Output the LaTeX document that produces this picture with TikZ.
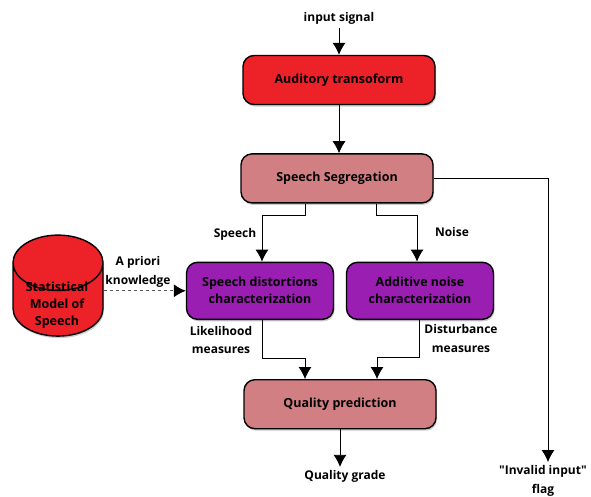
\documentclass[tikz,border=0pt]{standalone}
\usepackage{fontspec}
\setmainfont{Open Sans}[Ligatures=TeXOff]
\usepackage{xcolor}
\usetikzlibrary{shapes.geometric, arrows.meta, positioning, shadows}
\definecolor{boxred}{HTML}{EC2228}
\definecolor{boxrose}{HTML}{D27F83}
\definecolor{boxpurple}{HTML}{9A1EB2}

\begin{document}
\begin{tikzpicture}[
        box/.style={rectangle, draw=black, line width=1.4pt, rounded corners=11pt, minimum height=49pt, minimum width=192pt, align=center, font=\fontsize{12.5}{17}\selectfont\bfseries, drop shadow={shadow xshift=1pt, shadow yshift=-2pt, opacity=0.4}},
        redbox/.style={box, fill=boxred},
        rosebox/.style={box, fill=boxrose},
        purplebox/.style={box, fill=boxpurple, minimum height=57pt, minimum width=147pt},
        store/.style={cylinder, shape border rotate=90, aspect=8.3, draw=black, line width=1.4pt, minimum height=101pt, minimum width=90pt, fill=boxred, drop shadow={shadow xshift=1pt, shadow yshift=-2pt, opacity=0.4}},
        lbl/.style={align=center, font=\fontsize{12}{18.5}\selectfont\bfseries},
        arrow/.style={-{Latex[length=12pt, width=13pt]}, line width=0.8pt, draw=black},
        dasharrow/.style={-{Latex[length=12pt, width=13pt, black]}, line width=1pt, dashed, draw=black!65},
        node distance=48pt
    ]
        \useasboundingbox (0,0) rectangle (591pt,-496pt);

        \node[redbox] (auditory) at (339pt,-80pt) {Auditory transoform};
        \node[lbl, above=36pt of auditory.north, anchor=center] (input) {input signal};
        \node[rosebox, below=of auditory, xshift=-2pt] (segregation) {Speech Segregation};
        \node[purplebox, below=58pt of segregation, xshift=-77pt] (distortion) {Speech distortions\\characterization};
        \node[purplebox, below=58pt of segregation, xshift=83pt] (noise) {Additive noise\\characterization};
        \node[rosebox, below=59pt of distortion, xshift=80pt] (quality) {Quality prediction};
        \node[lbl, below=47pt of quality.south, anchor=center, xshift=5pt] (grade) {Quality grade};
        \node[lbl, anchor=north] (flag) at (543pt,-462pt) {"Invalid input"\\flag};
        \node[store] (model) at (58pt,-305pt) {};
        \node[lbl, font=\fontsize{12.5}{17}\selectfont\bfseries] (modeltext) at (57pt,-305pt) {Statistical\\Model of\\Speech};

        \node[lbl] (apriori) at (138pt,-272pt) {A priori\\knowledge};
        \node[lbl] (speech) at (235pt,-234pt) {Speech};
        \node[lbl] (noiselabel) at (452pt,-232pt) {Noise};
        \node[lbl] (likelihood) at (221pt,-340pt) {Likelihood\\measures};
        \node[lbl] (disturbance) at (461pt,-338.5pt) {Disturbance\\measures};

        \draw[arrow] (input.south) -- (auditory.north);
        \draw[arrow] (auditory.south) -- ([xshift=2pt]segregation.north);
        \draw[arrow] ([xshift=-32pt]segregation.south) -- ++(0,-12pt) -| ([xshift=2pt]distortion.north);
        \draw[arrow] ([xshift=39pt]segregation.south) -- ++(0,-12pt) -| ([xshift=-3pt]noise.north);
        \draw[arrow] (segregation.east) -| ([xshift=5pt]flag.north);
        \draw[arrow] ([xshift=2pt]distortion.south) -- ++(0,-38pt) -| ([xshift=-35pt]quality.north);
        \draw[arrow] ([xshift=-1pt]noise.south) -- ++(0,-37pt) -| ([xshift=37pt]quality.north);
        \draw[arrow] (quality.south) -- (quality.south |- grade.north);
        \draw[dasharrow] (model.east |- distortion.west) -- (distortion.west);
    \end{tikzpicture}
\end{document}
